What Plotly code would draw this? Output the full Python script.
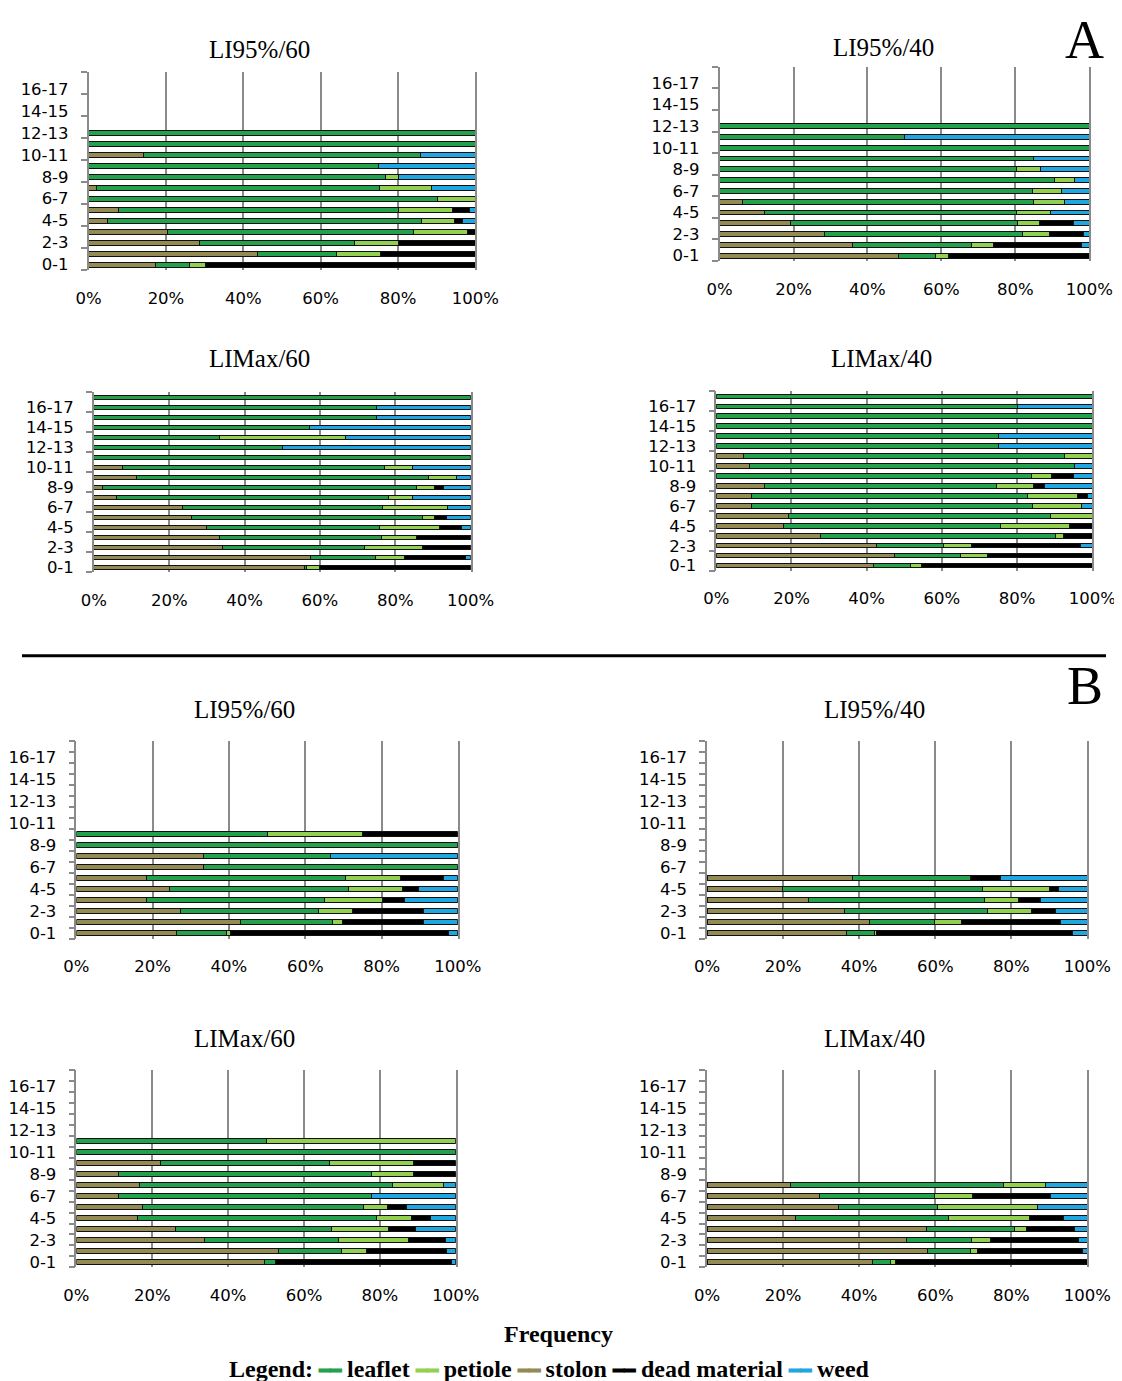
import plotly.graph_objects as go

# ---------------- data ----------------
CATS = ["0-1", "1-2", "2-3", "3-4", "4-5", "5-6", "6-7", "7-8", "8-9",
        "9-10", "10-11", "11-12", "12-13", "13-14", "14-15", "15-16", "16-17", "17-18"]
X_TICKS = [0, 20, 40, 60, 80, 100]
X_TICKTEXT = ["0%", "20%", "40%", "60%", "80%", "100%"]
STACK_ORDER = ["stolon", "leaflet", "petiole", "dead material", "weed"]
LEGEND_ORDER = ["leaflet", "petiole", "stolon", "dead material", "weed"]
COLORS = {"leaflet": "#23a14c", "petiole": "#92d050", "stolon": "#948a54",
          "dead material": "#000000", "weed": "#1fa7e1"}

# A - LI95%/60
A1_STOLON = [17.3, 43.6, 28.6, 20.3, 5.0, 7.7, 0, 2.0, 0, 0, 14.3, 0, 0]
A1_LEAFLET = [8.8, 20.5, 40.2, 63.7, 81.1, 72.5, 90.3, 73.2, 76.8, 75.0, 71.4, 100, 100]
A1_PETIOLE = [4.1, 11.4, 11.4, 13.9, 8.6, 13.8, 9.7, 13.4, 3.4, 0, 0, 0, 0]
A1_DEAD = [69.8, 24.5, 19.8, 2.1, 2.1, 4.5, 0, 0, 0, 0, 0, 0, 0]
A1_WEED = [0, 0, 0, 0, 3.2, 1.5, 0, 11.4, 19.8, 25.0, 14.3, 0, 0]

# A - LI95%/40
A2_STOLON = [48.3, 35.9, 28.4, 19.2, 12.1, 6.3, 0, 0, 0, 0, 0, 0, 0]
A2_LEAFLET = [10.2, 32.2, 53.5, 61.5, 68.1, 78.6, 84.5, 90.7, 80.2, 84.9, 100, 50, 100]
A2_PETIOLE = [3.3, 6.1, 7.4, 5.8, 9.2, 8.5, 8.0, 5.3, 6.5, 0, 0, 0, 0]
A2_DEAD = [38.2, 23.7, 9.0, 9.3, 0, 0, 0, 0, 0, 0, 0, 0, 0]
A2_WEED = [0, 2.1, 1.7, 4.2, 10.6, 6.6, 7.5, 4.0, 13.3, 15.1, 0, 50, 0]

# A - LIMax/60
A3_STOLON = [55.9, 57.5, 34.2, 33.3, 29.8, 25.9, 23.4, 6.0, 2.2, 11.2, 7.7, 0, 0, 0, 0, 0, 0, 0]
A3_LEAFLET = [0.5, 17.3, 37.7, 43.0, 46.1, 61.2, 53.2, 72.1, 83.5, 77.7, 69.5, 100, 50, 33.3, 57.1, 75, 75, 100]
A3_PETIOLE = [3.4, 7.7, 15.4, 9.2, 15.8, 3.3, 17.3, 6.4, 4.7, 7.3, 7.3, 0, 0, 33.4, 0, 0, 0, 0]
A3_DEAD = [40.2, 16.0, 12.7, 14.5, 5.9, 3.3, 0, 0, 2.4, 0, 0, 0, 0, 0, 0, 0, 0, 0]
A3_WEED = [0, 1.5, 0, 0, 2.4, 6.3, 6.1, 15.5, 7.2, 3.8, 15.5, 0, 50, 33.3, 42.9, 25, 25, 0]

# A - LIMax/40
A4_STOLON = [41.9, 47.5, 42.6, 27.7, 18.0, 19.3, 9.4, 9.4, 12.7, 0, 8.8, 7.2, 0, 0, 0, 0, 0, 0]
A4_LEAFLET = [9.7, 17.4, 17.9, 62.4, 57.7, 69.6, 74.7, 73.4, 61.7, 83.9, 86.5, 85.5, 75, 75, 100, 100, 80, 100]
A4_PETIOLE = [3.1, 7.2, 7.3, 2.3, 18.2, 11.1, 13.0, 13.3, 10.0, 5.2, 0, 7.3, 0, 0, 0, 0, 0, 0]
A4_DEAD = [45.3, 27.9, 29.0, 7.6, 6.1, 0, 0, 2.5, 2.8, 6.0, 0, 0, 0, 0, 0, 0, 0, 0]
A4_WEED = [0, 0, 3.2, 0, 0, 0, 2.9, 1.4, 12.8, 4.9, 4.7, 0, 25, 25, 0, 0, 20, 0]

# B - LI95%/60
B1_STOLON = [26.3, 43.0, 27.2, 18.3, 24.3, 18.3, 33.3, 33.3, 0, 0]
B1_LEAFLET = [13.0, 24.2, 36.3, 46.7, 47.0, 52.2, 66.7, 33.3, 100, 50]
B1_PETIOLE = [1.0, 2.6, 8.9, 15.2, 14.3, 14.4, 0, 0, 0, 25]
B1_DEAD = [57.3, 21.3, 18.7, 5.7, 4.2, 11.4, 0, 0, 0, 25]
B1_WEED = [2.4, 8.9, 8.9, 14.1, 10.2, 3.7, 0, 33.4, 0, 0]

# B - LI95%/40
B2_STOLON = [36.7, 42.6, 36.2, 26.7, 19.8, 38.2]
B2_LEAFLET = [7.3, 17.2, 37.6, 46.3, 52.7, 31.0]
B2_PETIOLE = [0.6, 7.1, 11.5, 8.9, 17.6, 0]
B2_DEAD = [51.4, 26.1, 6.4, 5.8, 2.4, 7.9]
B2_WEED = [4.0, 7.0, 8.3, 12.3, 7.5, 22.9]

# B - LIMax/60
B3_STOLON = [49.7, 53.2, 33.8, 26.1, 16.2, 17.5, 11.1, 16.6, 11.1, 22.2, 0, 0]
B3_LEAFLET = [2.8, 16.7, 35.3, 41.2, 62.9, 58.1, 66.7, 66.7, 66.7, 44.4, 100, 50]
B3_PETIOLE = [0, 6.6, 18.4, 15.0, 9.1, 6.5, 0, 13.5, 11.1, 22.2, 0, 50]
B3_DEAD = [46.5, 21.1, 9.7, 7.2, 5.1, 4.8, 0, 0, 11.1, 11.2, 0, 0]
B3_WEED = [1.0, 2.4, 2.8, 10.5, 6.7, 13.1, 22.2, 3.2, 0, 0, 0, 0]

# B - LIMax/40
B4_STOLON = [43.4, 58.0, 52.4, 57.6, 23.2, 34.5, 29.7, 22.0]
B4_LEAFLET = [4.8, 11.2, 17.1, 23.2, 40.4, 26.1, 30.1, 55.9]
B4_PETIOLE = [1.3, 1.9, 5.0, 3.2, 21.3, 26.3, 10.1, 11.0]
B4_DEAD = [50.5, 27.5, 23.1, 12.7, 8.9, 0, 20.5, 0]
B4_WEED = [0, 1.4, 2.4, 3.3, 6.2, 13.1, 9.6, 11.1]

PANEL_TITLES = ["LI95%/60", "LI95%/40", "LIMax/60", "LIMax/40",
                "LI95%/60", "LI95%/40", "LIMax/60", "LIMax/40"]
PANEL_DATA = [
    [A1_STOLON, A1_LEAFLET, A1_PETIOLE, A1_DEAD, A1_WEED],
    [A2_STOLON, A2_LEAFLET, A2_PETIOLE, A2_DEAD, A2_WEED],
    [A3_STOLON, A3_LEAFLET, A3_PETIOLE, A3_DEAD, A3_WEED],
    [A4_STOLON, A4_LEAFLET, A4_PETIOLE, A4_DEAD, A4_WEED],
    [B1_STOLON, B1_LEAFLET, B1_PETIOLE, B1_DEAD, B1_WEED],
    [B2_STOLON, B2_LEAFLET, B2_PETIOLE, B2_DEAD, B2_WEED],
    [B3_STOLON, B3_LEAFLET, B3_PETIOLE, B3_DEAD, B3_WEED],
    [B4_STOLON, B4_LEAFLET, B4_PETIOLE, B4_DEAD, B4_WEED],
]

# ---------------- layout geometry ----------------
W, H = 1122, 1381
# mapping from target picture pixels to figure coordinates
SX, OX, OY = 0.9744, 15.8, 6.0


def fx(px):
    return ((px - OX) / SX) / W


def fy(py):
    return 1 - (py - OY) / H


# (x0, x1, ytop, ybottom, minor tick step, title cx, title cy) in target pixels
BOXES = [
    (83, 473, 70.7, 269, 2, 255, 48),
    (719.3, 1092.3, 65, 260, 2, 885, 46),
    (88.3, 468.3, 391.7, 572.3, 2, 255, 358),
    (716, 1095.3, 390.7, 570.7, 2, 883, 358),
    (70.7, 455.3, 741.7, 940, 1, 240, 710),
    (706.7, 1090.3, 741.7, 940, 1, 876, 710),
    (70.7, 453.3, 1071.7, 1270, 1, 240, 1040),
    (706.7, 1090.3, 1071.7, 1270, 1, 876, 1040),
]

GRID = "#8a8a8a"
TICKFONT = dict(family="DejaVu Sans", size=16.5, color="#000000")
SERIF = "Liberation Serif"

fig = go.Figure()
layout = dict(
    width=W, height=H, autosize=False,
    margin=dict(l=0, r=0, t=0, b=0, pad=0),
    paper_bgcolor="white", plot_bgcolor="white",
    barmode="stack", bargap=0.55, showlegend=False,
)
annotations = []

for i, (box, data, title) in enumerate(zip(BOXES, PANEL_DATA, PANEL_TITLES), start=1):
    x0, x1, yt, yb, mstep, tcx, tcy = box
    xa = "x" if i == 1 else f"x{i}"
    ya = "y" if i == 1 else f"y{i}"
    for comp, vals in zip(STACK_ORDER, data):
        fig.add_trace(go.Bar(
            x=[v if v else None for v in vals],
            y=list(range(len(vals))),
            orientation="h",
            name=comp,
            marker=dict(color=COLORS[comp], line=dict(color="#111111", width=1)),
            xaxis=xa, yaxis=ya,
            hovertemplate=comp + ": %{x}%<extra></extra>",
        ))
    layout["xaxis" if i == 1 else f"xaxis{i}"] = dict(
        domain=[fx(x0), fx(x1)], anchor=ya, range=[0, 100],
        tickmode="array", tickvals=X_TICKS, ticktext=X_TICKTEXT,
        showgrid=True, gridcolor=GRID, gridwidth=1.5,
        zeroline=False, showline=False, ticks="",
        ticklabelstandoff=16, tickfont=TICKFONT, fixedrange=True,
    )
    layout["yaxis" if i == 1 else f"yaxis{i}"] = dict(
        domain=[fy(yb), fy(yt)], anchor=xa, range=[-0.5, len(CATS) - 0.5],
        tickmode="array", tickvals=list(range(0, len(CATS), 2)), ticktext=CATS[0::2],
        ticks="", showline=True, mirror=True, linecolor=GRID, linewidth=1.5,
        showgrid=False, zeroline=False, ticklabelstandoff=15,
        minor=dict(tick0=-0.5, dtick=mstep, ticks="outside", ticklen=6,
                   tickcolor=GRID, tickwidth=1.5, showgrid=False),
        tickfont=TICKFONT, fixedrange=True,
    )
    annotations.append(dict(
        text=title, x=fx(tcx), y=fy(tcy), xref="paper", yref="paper",
        xanchor="center", yanchor="middle", showarrow=False,
        font=dict(family=SERIF, size=25, color="#000000"),
    ))

# section letters
annotations.append(dict(text="A", x=fx(1087), y=1, xref="paper", yref="paper",
                        xanchor="center", yanchor="top", showarrow=False,
                        font=dict(family=SERIF, size=54, color="#000000")))
annotations.append(dict(text="B", x=fx(1088), y=fy(686), xref="paper", yref="paper",
                        xanchor="center", yanchor="middle", showarrow=False,
                        font=dict(family=SERIF, size=54, color="#000000")))

# footer
annotations.append(dict(text="<b>Frequency</b>", x=fx(557), y=fy(1337),
                        xref="paper", yref="paper", xanchor="center", yanchor="middle",
                        showarrow=False, font=dict(family=SERIF, size=24, color="#000000")))
legend_parts = ["<b>Legend:</b>"]
for comp in LEGEND_ORDER:
    legend_parts.append(
        f"<span style='color:{COLORS[comp]};font-size:19px'><b>━━</b></span> <b>{comp}</b>")
annotations.append(dict(text=" ".join(legend_parts), x=fx(548), y=0,
                        xref="paper", yref="paper", xanchor="center", yanchor="bottom",
                        showarrow=False, font=dict(family=SERIF, size=24, color="#000000")))

layout["annotations"] = annotations
layout["shapes"] = [dict(type="line", xref="paper", yref="paper",
                         x0=0, x1=1, y0=fy(656), y1=fy(656),
                         line=dict(color="#000000", width=3))]

fig.update_layout(**layout)
fig.write_html("out.html")
